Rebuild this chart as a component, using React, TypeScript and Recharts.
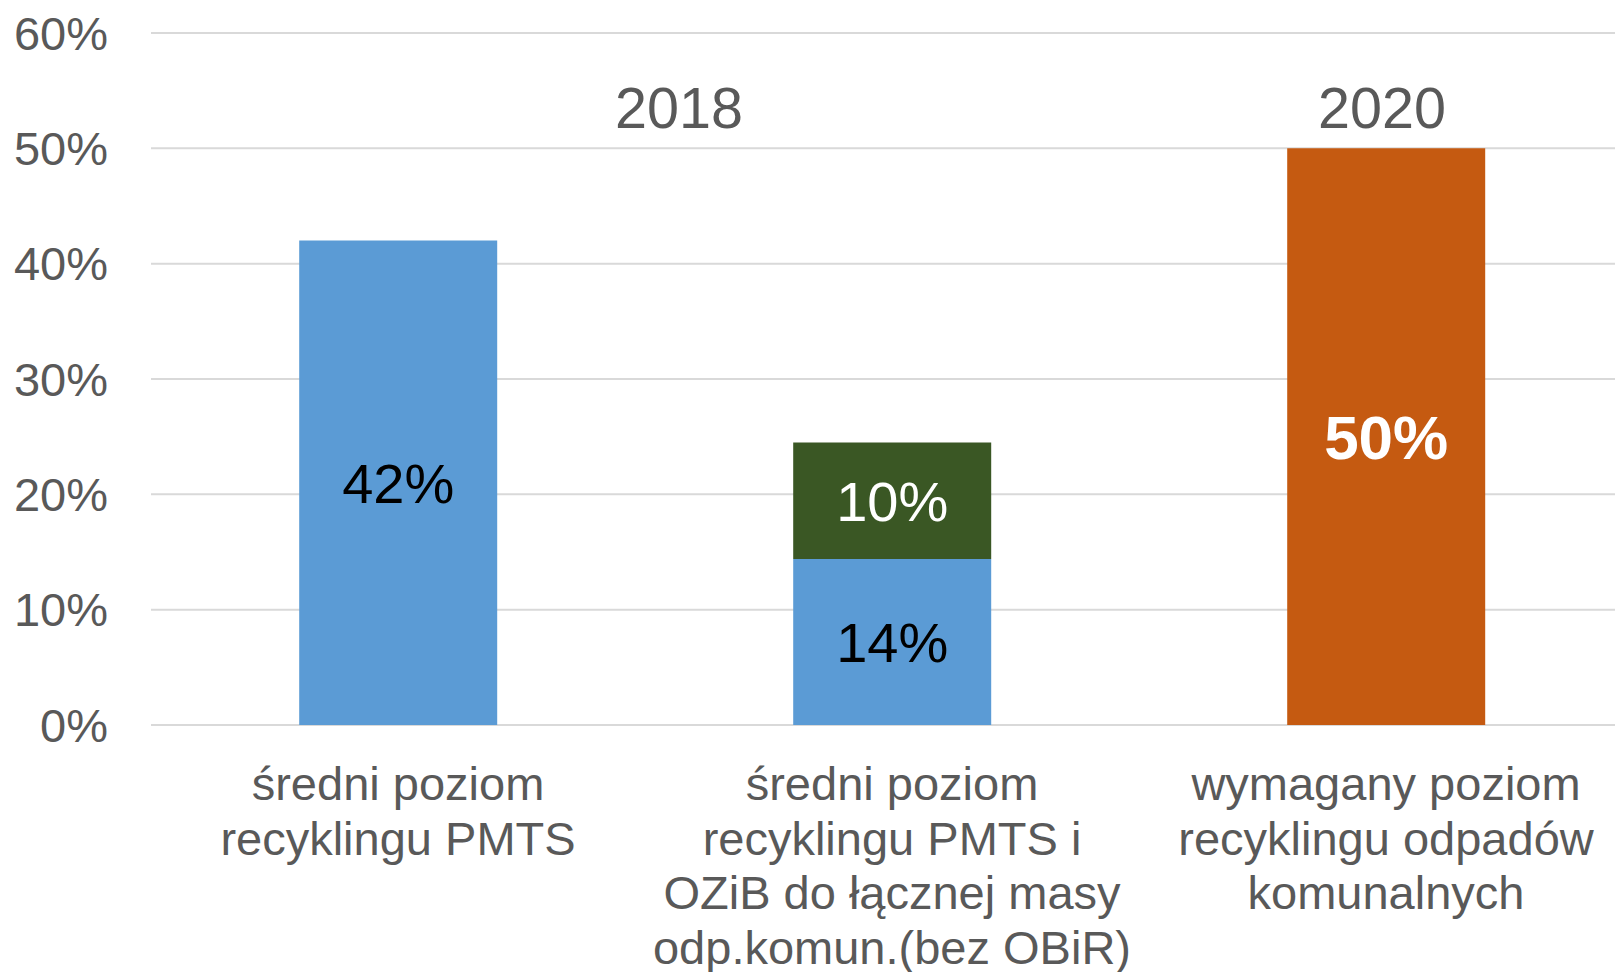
import React from "react";
import {
  BarChart,
  Bar,
  XAxis,
  YAxis,
  CartesianGrid,
  LabelList,
  ReferenceArea,
} from "recharts";

const categories = [
  "średni poziom\nrecyklingu PMTS",
  "średni poziom\nrecyklingu PMTS i\nOZiB do łącznej masy\nodp.komun.(bez OBiR)",
  "wymagany poziom\nrecyklingu odpadów\nkomunalnych",
];
const pmtsValues = [42, 14.4, null];
const ozibValues = [null, 10.1, null];
const requiredValues = [null, null, 50];
const yTicks = [0, 10, 20, 30, 40, 50, 60];
const yearLabels = ["2018", "2020"];
const yearFrom = [categories[0], categories[2]];
const yearTo = [categories[1], categories[2]];

const data = categories.map((name, i) => ({
  name,
  pmts: pmtsValues[i],
  ozib: ozibValues[i],
  required: requiredValues[i],
}));

const FONT = '"Liberation Sans", Arial, sans-serif';
const GREY = "#595959";

const fmt = (v: any) =>
  v === null || v === undefined || v === "" ? "" : `${Math.round(Number(v))}%`;

const CatTick = (props: any) => {
  const { x, y, payload } = props;
  const lines = String(payload.value).split("\n");
  return (
    <text
      x={x}
      y={y}
      textAnchor="middle"
      fill={GREY}
      fontSize={47}
      fontFamily={FONT}
    >
      {lines.map((l, i) => (
        <tspan key={i} x={x} dy={i === 0 ? 75 : 54.5}>
          {l}
        </tspan>
      ))}
    </text>
  );
};

const YearLabel = (props: any) => {
  const { viewBox, text, dx } = props;
  if (!viewBox) return null;
  return (
    <text
      x={viewBox.x + viewBox.width / 2 + dx}
      y={viewBox.y + viewBox.height - 20}
      textAnchor="middle"
      fill={GREY}
      fontSize={57.5}
      fontFamily={FONT}
    >
      {text}
    </text>
  );
};

const yearDx = [34, -4];

export default function App() {
  return (
    <div
      style={{
        position: "absolute",
        left: 0,
        top: 0,
        width: 1615,
        height: 972,
        overflow: "hidden",
        background: "#fff",
      }}
    >
      <BarChart
        width={1633}
        height={972}
        data={data}
        margin={{ top: 33, right: 0, bottom: 0, left: 0 }}
        barCategoryGap="30%"
        style={{ fontFamily: FONT }}
      >
        <CartesianGrid
          horizontal={true}
          vertical={false}
          stroke="#D9D9D9"
          strokeWidth={2}
        />
        <XAxis
          dataKey="name"
          height={247}
          tickLine={false}
          axisLine={false}
          tickSize={0}
          tickMargin={0}
          interval={0}
          tick={<CatTick />}
        />
        <YAxis
          width={151}
          domain={[0, 60]}
          ticks={yTicks}
          tickFormatter={(v: number) => `${v}%`}
          tickLine={false}
          axisLine={false}
          tickSize={0}
          tickMargin={43}
          tick={{ fill: GREY, fontSize: 47, fontFamily: FONT }}
          interval={0}
        />
        {yearLabels.map((t, i) => (
          <ReferenceArea
            key={t}
            x1={yearFrom[i]}
            x2={yearTo[i]}
            y1={50}
            y2={60}
            fill="none"
            fillOpacity={0}
            stroke="none"
            ifOverflow="visible"
            label={<YearLabel text={t} dx={yearDx[i]} />}
          />
        ))}
        <Bar dataKey="pmts" stackId="s" fill="#5B9BD5" isAnimationActive={false}>
          <LabelList
            dataKey="pmts"
            position="center"
            formatter={fmt}
            fill="#000000"
            fontSize={56}
            fontFamily={FONT}
          />
        </Bar>
        <Bar dataKey="ozib" stackId="s" fill="#3A5724" isAnimationActive={false}>
          <LabelList
            dataKey="ozib"
            position="center"
            formatter={fmt}
            fill="#FFFFFF"
            fontSize={56}
            fontFamily={FONT}
          />
        </Bar>
        <Bar
          dataKey="required"
          stackId="s"
          fill="#C55A11"
          isAnimationActive={false}
        >
          <LabelList
            dataKey="required"
            position="center"
            formatter={fmt}
            fill="#FFFFFF"
            fontSize={62}
            fontWeight="bold"
            fontFamily={FONT}
          />
        </Bar>
      </BarChart>
    </div>
  );
}
